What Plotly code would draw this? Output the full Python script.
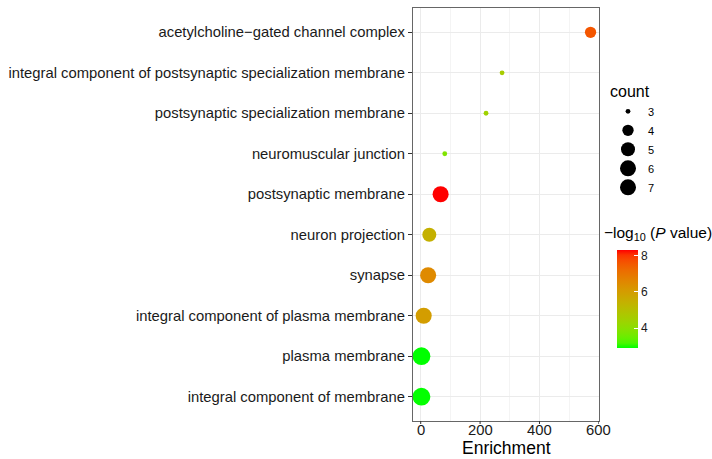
import math
import plotly.graph_objects as go

# GO cellular-component enrichment results
terms = [
    "acetylcholine−gated channel complex",
    "integral component of postsynaptic specialization membrane",
    "postsynaptic specialization membrane",
    "neuromuscular junction",
    "postsynaptic membrane",
    "neuron projection",
    "synapse",
    "integral component of plasma membrane",
    "plasma membrane",
    "integral component of membrane",
]
enrichment = [572, 274, 220, 81, 67, 29, 25, 10, 2.5, 2.5]
counts = [4, 3, 3, 3, 6, 5, 6, 6, 7, 7]
neg_log10_p = [7.6, 4.6, 4.4, 3.8, 8.33, 5.45, 6.5, 6.0, 2.89, 2.9]

count_breaks = [3, 4, 5, 6, 7]
x_ticks = [0, 200, 400, 600]
cb_ticks = [4, 6, 8]

FONT = "Liberation Sans, Arial, sans-serif"

# plot-area geometry in pixels
W, H = 712, 459
L, R, T, B = 413, 599, 8, 421


def px_x(x):
    return (x - L) / (R - L)


def px_y(y):
    return (B - y) / (B - T)


# --- colour gradient green -> red interpolated in CIE Lab ---
def _srgb_to_lin(c):
    c = c / 255.0
    return c / 12.92 if c <= 0.04045 else ((c + 0.055) / 1.055) ** 2.4


def _lin_to_srgb(c):
    c = max(0.0, min(1.0, c))
    v = 12.92 * c if c <= 0.0031308 else 1.055 * c ** (1 / 2.4) - 0.055
    return int(round(v * 255))


def _rgb_to_lab(rgb):
    r, g, b = (_srgb_to_lin(v) for v in rgb)
    x = (0.4124 * r + 0.3576 * g + 0.1805 * b) / 0.95047
    y = 0.2126 * r + 0.7152 * g + 0.0722 * b
    z = (0.0193 * r + 0.1192 * g + 0.9505 * b) / 1.08883

    def f(t):
        return t ** (1 / 3) if t > 0.008856 else 7.787 * t + 16 / 116

    fx, fy, fz = f(x), f(y), f(z)
    return 116 * fy - 16, 500 * (fx - fy), 200 * (fy - fz)


def _lab_to_rgb(lab):
    Lv, a, b = lab
    fy = (Lv + 16) / 116
    fx = fy + a / 500
    fz = fy - b / 200

    def finv(t):
        return t ** 3 if t ** 3 > 0.008856 else (t - 16 / 116) / 7.787

    x, y, z = 0.95047 * finv(fx), finv(fy), 1.08883 * finv(fz)
    r = 3.2406 * x - 1.5372 * y - 0.4986 * z
    g = -0.9689 * x + 1.8758 * y + 0.0415 * z
    bb = 0.0557 * x - 0.2040 * y + 1.0570 * z
    return _lin_to_srgb(r), _lin_to_srgb(g), _lin_to_srgb(bb)


low_lab = _rgb_to_lab((0, 255, 0))
high_lab = _rgb_to_lab((255, 0, 0))
n_stops = 21
colorscale = []
for i in range(n_stops):
    t = i / (n_stops - 1)
    lab = tuple(lo + (hi - lo) * t for lo, hi in zip(low_lab, high_lab))
    r, g, b = _lab_to_rgb(lab)
    colorscale.append([t, f"rgb({r},{g},{b})"])


# --- size scale: area proportional to count ---
cmin, cmax = min(counts), max(counts)


def marker_diam(c):
    s = 1 + 5 * math.sqrt((c - cmin) / (cmax - cmin))
    return 2.6 * s + 2.2


# x-range with 5% padding on each side
span = max(enrichment) - min(enrichment)
x_range = [min(enrichment) - 0.05 * span, max(enrichment) + 0.05 * span]

fig = go.Figure()

fig.add_trace(go.Scatter(
    x=enrichment,
    y=terms,
    mode="markers",
    showlegend=False,
    marker=dict(
        size=[marker_diam(c) for c in counts],
        color=neg_log10_p,
        colorscale=colorscale,
        line=dict(width=0),
        opacity=1,
        colorbar=dict(
            x=px_x(617), xanchor="left",
            y=px_y(299), yanchor="middle",
            len=98, lenmode="pixels",
            thickness=21, thicknessmode="pixels",
            xpad=0, ypad=0,
            outlinewidth=0,
            tickvals=cb_ticks,
            ticks="inside", ticklen=4, tickcolor="white", tickwidth=1,
            tickfont=dict(family=FONT, size=12, color="#1a1a1a"),
        ),
    ),
))

# legend entries for the count size scale
for c in count_breaks:
    fig.add_trace(go.Scatter(
        x=[None], y=[None], mode="markers", name=str(c),
        marker=dict(size=marker_diam(c), color="black", line=dict(width=0)),
        showlegend=True,
    ))

fig.add_annotation(
    xref="paper", yref="paper", x=px_x(602), y=px_y(233),
    xanchor="left", yanchor="middle", showarrow=False,
    text="−log<sub>10</sub> (<i>P</i> value)",
    font=dict(family=FONT, size=15.5, color="black"),
)

# x-axis title
fig.add_annotation(
    xref="paper", yref="paper", x=0.5, y=px_y(459),
    xanchor="center", yanchor="bottom", showarrow=False,
    text="Enrichment", borderpad=0,
    font=dict(family=FONT, size=17.5, color="black"),
)

# x-axis tick marks and labels, placed on the data scale
for v in x_ticks:
    fig.add_shape(
        type="line", xref="x", yref="paper",
        x0=v, x1=v, y0=0, y1=-3 / (B - T),
        line=dict(color="#333333", width=1),
    )
    fig.add_annotation(
        xref="x", yref="paper", x=v, y=px_y(430.5),
        xanchor="center", yanchor="middle", showarrow=False,
        text=str(v), borderpad=0,
        font=dict(family=FONT, size=14.8, color="#1a1a1a"),
    )

fig.update_layout(
    width=W, height=H,
    margin=dict(l=L, r=W - R, t=T, b=H - B, autoexpand=False),
    paper_bgcolor="white", plot_bgcolor="white",
    font=dict(family=FONT, color="black"),
    legend=dict(
        x=px_x(608), xanchor="left",
        y=px_y(76), yanchor="top",
        title=dict(text="count", font=dict(family=FONT, size=16)),
        font=dict(family=FONT, size=11),
        itemsizing="trace",
        bgcolor="rgba(0,0,0,0)",
        tracegroupgap=0,
    ),
)

fig.update_xaxes(
    range=x_range,
    tickvals=x_ticks,
    showticklabels=False,
    automargin=False,
    ticks="",
    showgrid=True, gridcolor="#EBEBEB", gridwidth=1,
    minor=dict(showgrid=True, gridcolor="#F4F4F4", gridwidth=1, dtick=100, tick0=0),
    showline=True, mirror=True, linecolor="#666666", linewidth=1.3,
    zeroline=False,
)

fig.update_yaxes(
    type="category",
    categoryorder="array",
    categoryarray=list(reversed(terms)),
    range=[-0.6, len(terms) - 0.4],
    automargin=False,
    ticks="outside", ticklen=4, tickcolor="#333333", tickwidth=1,
    tickfont=dict(family=FONT, size=14.8, color="#1a1a1a"),
    showgrid=True, gridcolor="#EBEBEB", gridwidth=1,
    showline=True, mirror=True, linecolor="#666666", linewidth=1.3,
    zeroline=False,
)

fig.write_html("out.html")
